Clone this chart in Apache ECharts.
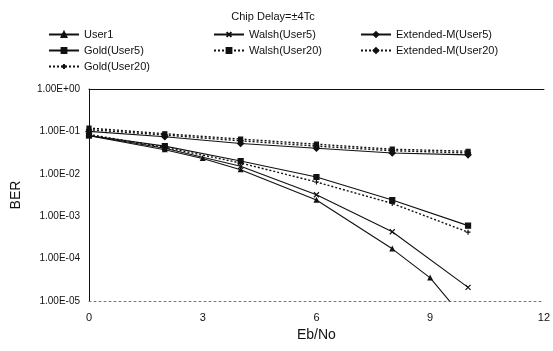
<!DOCTYPE html>
<html>
<head>
<meta charset="utf-8">
<script src="https://cdn.jsdelivr.net/npm/echarts@6/dist/echarts.min.js"></script>
<style>
  html, body { margin: 0; padding: 0; background: #fff; }
  #chart { width: 553px; height: 351px; }
</style>
</head>
<body>
<div id="chart"></div>
<script>
// Eb/No points (dB) and BER
var user1X = [0, 2, 3, 4, 6, 8, 9, 10];
var user1 = [0.079, 0.037, 0.023, 0.0125, 0.0024, 0.00017, 0.000035, 0.000003];
var ebno = [0, 2, 4, 6, 8, 10];
var walshU5 = [0.080, 0.040, 0.015, 0.0032, 0.00043, 0.000021];
var extU5 = [0.100, 0.075, 0.052, 0.040, 0.031, 0.028];
var goldU5 = [0.080, 0.045, 0.020, 0.0084, 0.0024, 0.00060];
var walshU20 = [0.120, 0.088, 0.066, 0.050, 0.038, 0.034];
var extU20 = [0.110, 0.082, 0.060, 0.045, 0.035, 0.031];
var goldU20 = [0.085, 0.042, 0.018, 0.0064, 0.0020, 0.00042];

var xTicks = [0, 3, 6, 9, 12];

function pairs(xs, ys) {
  return ys.map(function (v, i) { return [xs[i], v]; });
}

function sciLabel(v) {
  var e = Math.round(Math.log10(v));
  var m = v / Math.pow(10, e);
  var sign = e < 0 ? '-' : '+';
  var ae = Math.abs(e);
  return m.toFixed(2) + 'E' + sign + (ae < 10 ? '0' + ae : ae);
}

function line(name, data, symbol, size, dotted) {
  return {
    name: name,
    type: 'line',
    data: data,
    symbol: symbol,
    symbolSize: size,
    clip: true,
    lineStyle: { color: '#111', width: dotted ? 1.4 : 1.1, type: dotted ? [2, 2] : 'solid' },
    itemStyle: { color: '#111', borderColor: '#111', borderWidth: 1.2 },
    z: 3
  };
}

var cross = 'path://M0,0L10,10M10,0L0,10';
var plus = 'path://M5,0L5,10M0,5L10,5';

var chart = echarts.init(document.getElementById('chart'));
var legendText = { fontFamily: 'Liberation Sans, Arial, sans-serif', fontSize: 11, color: '#111' };
var legendBase = { orient: 'vertical', top: 24, itemWidth: 30, itemHeight: 6, itemGap: 5, textStyle: legendText };
var option = {
  animation: false,
  backgroundColor: '#fff',
  title: {
    text: 'Chip Delay=±4Tc',
    left: 268, top: 6, textAlign: 'center',
    textStyle: { fontFamily: 'Liberation Sans, Arial, sans-serif', fontSize: 11, fontWeight: 'normal', color: '#111' }
  },
  legend: [
    Object.assign({ data: ['User1', 'Gold(User5)', 'Gold(User20)'], left: 43 }, legendBase),
    Object.assign({ data: ['Walsh(User5)', 'Walsh(User20)'], left: 208 }, legendBase),
    Object.assign({ data: ['Extended-M(User5)', 'Extended-M(User20)'], left: 355 }, legendBase)
  ],
  grid: { left: 89, right: 6, top: 89, bottom: 50 },
  xAxis: [{
    type: 'value', min: 0, max: 12, interval: 3,
    name: 'Eb/No', nameLocation: 'middle', nameGap: 24,
    nameTextStyle: { fontFamily: 'Liberation Sans, Arial, sans-serif', fontSize: 14, color: '#111' },
    axisLine: { show: true, lineStyle: { color: '#777', type: [2, 3], width: 1 } },
    axisTick: { show: false },
    splitLine: { show: false },
    axisLabel: { fontFamily: 'Liberation Sans, Arial, sans-serif', fontSize: 11, color: '#111', margin: 11,
      formatter: function (v) { return xTicks.indexOf(v) >= 0 ? String(v) : ''; } }
  }, {
    type: 'value', min: 0, max: 12, position: 'top',
    axisLine: { show: true, onZero: false, lineStyle: { color: '#111', width: 1.2 } },
    axisTick: { show: false }, axisLabel: { show: false }, splitLine: { show: false }
  }],
  yAxis: {
    type: 'log', min: 1e-5, max: 1, logBase: 10,
    name: 'BER', nameLocation: 'middle', nameGap: 66, nameRotate: 90,
    nameTextStyle: { fontFamily: 'Liberation Sans, Arial, sans-serif', fontSize: 14, color: '#111' },
    axisLine: { show: true, lineStyle: { color: '#111', width: 1 } },
    axisTick: { show: false },
    splitLine: { show: false },
    axisLabel: { fontFamily: 'Liberation Sans, Arial, sans-serif', fontSize: 10, color: '#111', margin: 9,
      formatter: sciLabel }
  },
  series: [
    line('User1', pairs(user1X, user1), 'triangle', 4, false),
    line('Walsh(User5)', pairs(ebno, walshU5), cross, 5, false),
    line('Extended-M(User5)', pairs(ebno, extU5), 'diamond', 6, false),
    line('Gold(User5)', pairs(ebno, goldU5), 'rect', 5, false),
    line('Walsh(User20)', pairs(ebno, walshU20), 'rect', 4, true),
    line('Extended-M(User20)', pairs(ebno, extU20), 'diamond', 5, true),
    line('Gold(User20)', pairs(ebno, goldU20), plus, 5, true)
  ]
};
chart.setOption(option);
</script>
</body>
</html>
